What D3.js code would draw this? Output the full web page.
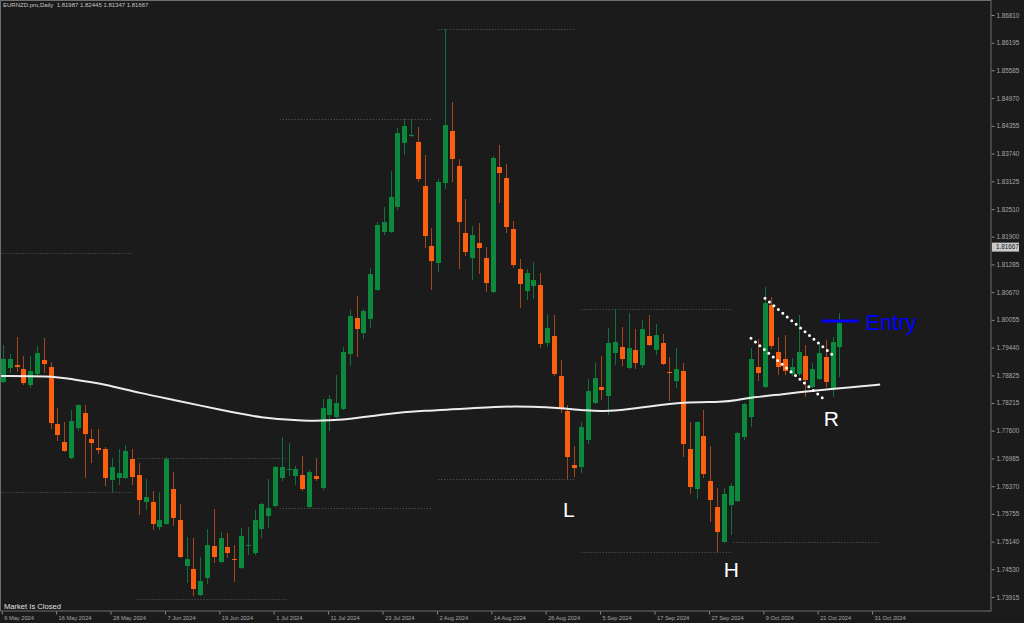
<!DOCTYPE html>
<html><head><meta charset="utf-8">
<script src="https://cdn.jsdelivr.net/npm/d3@7"></script>
<style>body{margin:0;background:#1b1b1b}svg{display:block}</style>
</head><body>
<svg id="c" width="1024" height="623"></svg>
<script>
// ---- data ----
const symbolTitle = "EURNZD.pro,Daily  1.81987 1.82445 1.81347 1.81667";
const lastPrice = 1.81667;
const open = [
1.78678,1.78988,1.79054,1.78966,1.78611,1.78855,1.79165,1.79010,1.77747,1.77349,
1.76994,1.77658,1.77991,1.77415,1.77216,1.77193,1.76507,1.76551,1.76551,1.76972,
1.76617,1.76020,1.76020,1.75465,1.75532,1.76307,1.75620,1.74601,1.74535,1.73959,
1.74336,1.75044,1.74690,1.75022,1.74756,1.74557,1.75044,1.74889,1.75421,1.75709,
1.75931,1.76551,1.76728,1.76595,1.76617,1.75908,1.76595,1.76330,1.77947,1.77902,
1.78080,1.79298,1.80096,1.79764,1.80074,1.80716,1.82002,1.82002,1.82556,1.83974,
1.84129,1.83996,1.83021,1.81691,1.81315,1.83087,1.84240,1.83464,1.81980,1.81426,
1.81758,1.81426,1.80672,1.83442,1.83198,1.82068,1.81182,1.80694,1.80805,1.80827,
1.79542,1.79697,1.78811,1.78035,1.76839,1.76795,1.77393,1.78213,1.78567,1.78368,
1.79321,1.79454,1.78988,1.79387,1.79054,1.79697,1.79387,1.79542,1.78900,1.78700,
1.78922,1.77193,1.76307,1.77482,1.76485,1.75908,1.75133,1.75953,1.76041,1.77459,
1.77902,1.79010,1.78567,1.80384,1.79343,1.79188,1.78855,1.78855,1.79254,1.78567,
1.78744,1.79232,1.78523,1.79454];
const high = [
1.79498,1.79298,1.79675,1.79254,1.79254,1.79476,1.79653,1.79121,1.78102,1.77792,
1.78058,1.78190,1.78168,1.77636,1.77636,1.77238,1.76994,1.77193,1.77282,1.77193,
1.76883,1.76529,1.76263,1.76241,1.77016,1.76684,1.75975,1.75244,1.75222,1.74801,
1.75421,1.75864,1.75355,1.75333,1.75067,1.75443,1.75465,1.75842,1.75997,1.76529,
1.76817,1.77459,1.77326,1.76817,1.77039,1.76728,1.76994,1.78301,1.78390,1.78833,
1.79454,1.80273,1.80584,1.80295,1.81204,1.82223,1.82556,1.83353,1.84306,1.84505,
1.84505,1.84328,1.83708,1.82090,1.83176,1.86499,1.84882,1.83619,1.82733,1.82135,
1.82201,1.81669,1.83686,1.83929,1.83508,1.82245,1.81404,1.81182,1.81337,1.81093,
1.80185,1.80163,1.79165,1.78168,1.77260,1.77792,1.78744,1.79121,1.79254,1.79874,
1.80295,1.79897,1.80207,1.79852,1.80052,1.80163,1.79963,1.79741,1.79232,1.79432,
1.79099,1.77792,1.77814,1.78058,1.77260,1.76330,1.76330,1.76440,1.77570,1.78213,
1.79432,1.79631,1.80783,1.80561,1.79675,1.79719,1.79210,1.80163,1.79498,1.79099,
1.79498,1.79609,1.79675,1.80207];
const low = [
1.78656,1.78878,1.78900,1.78611,1.78545,1.78811,1.78878,1.77636,1.77371,1.77127,
1.76972,1.77592,1.76551,1.76883,1.77083,1.76374,1.76241,1.76396,1.76529,1.76396,
1.75731,1.75842,1.75399,1.75399,1.75510,1.75487,1.74778,1.74225,1.73937,1.73937,
1.74202,1.74668,1.74668,1.74778,1.74247,1.74535,1.74845,1.74845,1.75222,1.75443,
1.75908,1.76485,1.76595,1.76396,1.76263,1.75886,1.76485,1.76285,1.77592,1.77880,
1.78058,1.79032,1.79232,1.79631,1.79874,1.80694,1.81935,1.81980,1.82489,1.83708,
1.84107,1.83109,1.81647,1.80716,1.81115,1.82954,1.83109,1.81182,1.81470,1.80938,
1.81071,1.80672,1.80650,1.82644,1.81980,1.81204,1.80318,1.80495,1.80517,1.79432,
1.79454,1.78811,1.77991,1.76529,1.76573,1.76662,1.77304,1.78190,1.78279,1.77947,
1.79054,1.79032,1.78966,1.78966,1.78988,1.79476,1.79276,1.79054,1.78257,1.78545,
1.77016,1.76197,1.76086,1.76551,1.75576,1.74911,1.75111,1.75288,1.76020,1.77393,
1.77681,1.78700,1.78545,1.79409,1.78833,1.78833,1.78811,1.78811,1.78346,1.78545,
1.78722,1.78567,1.78346,1.78789];
const close = [
1.79188,1.79188,1.79010,1.78656,1.78922,1.79321,1.79077,1.77769,1.77504,1.77149,
1.77814,1.78168,1.77526,1.77326,1.77171,1.76551,1.76795,1.76662,1.77149,1.76573,
1.76064,1.76130,1.75532,1.75620,1.76972,1.75665,1.74801,1.74756,1.74092,1.74269,
1.75067,1.74801,1.75222,1.74889,1.74734,1.75266,1.75067,1.75620,1.75975,1.75886,
1.76795,1.76795,1.76750,1.76750,1.76307,1.76684,1.76529,1.78102,1.78301,1.78213,
1.79343,1.80140,1.79852,1.80251,1.81071,1.82157,1.82223,1.82777,1.84195,1.84350,
1.84151,1.83176,1.81913,1.81359,1.83109,1.84372,1.83619,1.82223,1.81558,1.81935,
1.81647,1.80871,1.83641,1.83309,1.82113,1.81270,1.80849,1.81093,1.80938,1.79520,
1.79874,1.78855,1.78102,1.77016,1.76772,1.77681,1.78478,1.78767,1.78501,1.79542,
1.79564,1.79188,1.79432,1.79099,1.79852,1.79498,1.79719,1.79077,1.78878,1.78966,
1.77304,1.76352,1.77792,1.76640,1.76064,1.75355,1.76197,1.76374,1.77548,1.78190,
1.79188,1.78878,1.80428,1.79476,1.79010,1.78922,1.79010,1.79343,1.78722,1.78966,
1.79321,1.78678,1.79564,1.79985];

// moving average (bar index, value)
const maIdx = [-0.5,7,10,15,20,26,32,38,44,50,56,62,68,72,78,82,86,88,92,95,100,106,108,110,115,118,122,125,129];
const maVal = [1.78811,1.78811,1.78744,1.78634,1.78434,1.78257,1.78058,1.77880,1.77814,1.77825,1.77969,1.78047,1.78080,1.78135,1.78135,1.78102,1.78047,1.78024,1.78069,1.78135,1.78235,1.78235,1.78279,1.78335,1.78412,1.78468,1.78523,1.78567,1.78622];

// period high / low dotted levels
const hlStart = [-0.2, 19.8, 40.7, 64.0, 85.1, 107.4];
const hlEnd   = [19.0, 41.9, 63.2, 84.1, 107.2, 129.0];
const hlHigh  = [1.81536, 1.76994, 1.84505, 1.86499, 1.80295, null];
const hlLow   = [1.76241, 1.73870, 1.75886, 1.76529, 1.74911, 1.75133];

// axis ticks
const yTickValues = [1.86810,1.86195,1.85585,1.84970,1.84355,1.83740,1.83125,1.82510,1.81900,1.81285,1.80670,1.80055,1.79440,1.78825,1.78215,1.77600,1.76985,1.76370,1.75755,1.75140,1.74530,1.73915];
const yTickLabels = yTickValues.map(v => v.toFixed(5));
const xTickIdx = [0,8,16,24,32,40,48,56,64,72,80,88,96,104,112,120,128];
const xTickLabels = ["6 May 2024","16 May 2024","28 May 2024","7 Jun 2024","19 Jun 2024","1 Jul 2024","11 Jul 2024","23 Jul 2024","2 Aug 2024","14 Aug 2024","26 Aug 2024","5 Sep 2024","17 Sep 2024","27 Sep 2024","9 Oct 2024","21 Oct 2024","31 Oct 2024"];

// annotations
const channelLines = [ [[112.06,1.80533],[122.5,1.79217]], [[110.0,1.79647],[120.5,1.78324]] ];
const entryLine = {from:120.4, to:125.8, price:1.80029, label:"Entry"};
const letterLabels = ["L","H","R"];
const letterIdx = [83.2,107.1,121.8];
const letterPrice = [1.75687,1.74358,1.77703];

// ---- drawing ----
const svg = d3.select("#c");
const plotR = 991, plotB = 611;
const x = d3.scaleLinear().domain([0,128]).range([3, 873.4]);
const y = d3.scaleLinear().domain([1.86810,1.73915]).range([15,597]);

svg.append("rect").attr("width",1024).attr("height",623).attr("fill","#1b1b1b");
svg.append("defs").append("clipPath").attr("id","clip")
  .append("rect").attr("x",1).attr("y",1).attr("width",plotR-1).attr("height",plotB-1);
const g = svg.append("g").attr("clip-path","url(#clip)");

// period levels
const hl = [];
hlStart.forEach((s,i)=>{
  if(hlHigh[i]!=null) hl.push({s, e:hlEnd[i], v:hlHigh[i]});
  if(hlLow[i]!=null) hl.push({s, e:hlEnd[i], v:hlLow[i]});
});
g.selectAll("line.hl").data(hl).join("line").attr("class","hl")
  .attr("x1",d=>x(d.s)).attr("x2",d=>x(d.e))
  .attr("y1",d=>Math.round(y(d.v))+0.5).attr("y2",d=>Math.round(y(d.v))+0.5)
  .attr("stroke","#5c5c5c").attr("stroke-width",1).attr("stroke-dasharray","1,2");

// candles
const bars = open.map((o,i)=>({i,o,h:high[i],l:low[i],c:close[i]}));
const cg = g.append("g");
cg.selectAll("line.wick").data(bars).join("line").attr("class","wick")
  .attr("x1",d=>Math.round(x(d.i))+0.5).attr("x2",d=>Math.round(x(d.i))+0.5)
  .attr("y1",d=>y(d.h)).attr("y2",d=>y(d.l))
  .attr("stroke",d=>d.c>=d.o?"#137038":"#a5461b").attr("stroke-width",1);
cg.selectAll("rect.body").data(bars).join("rect").attr("class","body")
  .attr("x",d=>Math.round(x(d.i))-2).attr("width",5)
  .attr("y",d=>y(Math.max(d.o,d.c)))
  .attr("height",d=>Math.max(1,Math.abs(y(d.o)-y(d.c))))
  .attr("fill",d=>d.c>=d.o?"#0b8a3d":"#fb6010");

// moving average
const maPts = maIdx.map((m,i)=>[m,maVal[i]]);
g.append("path").datum(maPts)
  .attr("d", d3.line().x(d=>x(d[0])).y(d=>y(d[1])).curve(d3.curveBasis))
  .attr("fill","none").attr("stroke","#ececec").attr("stroke-width",2);

// channel dotted lines
g.selectAll("line.ch").data(channelLines).join("line").attr("class","ch")
  .attr("x1",d=>x(d[0][0])).attr("y1",d=>y(d[0][1]))
  .attr("x2",d=>x(d[1][0])).attr("y2",d=>y(d[1][1]))
  .attr("stroke","#ffffff").attr("stroke-width",3)
  .attr("stroke-linecap","round").attr("stroke-dasharray","0,5.8");

// entry
g.append("line").attr("x1",x(entryLine.from)).attr("x2",x(entryLine.to))
  .attr("y1",y(entryLine.price)).attr("y2",y(entryLine.price))
  .attr("stroke","#0000ff").attr("stroke-width",3);
g.append("text").attr("x",x(entryLine.to)+7).attr("y",y(entryLine.price)+9)
  .attr("font-family","Liberation Sans, Arial, sans-serif").attr("font-size",22)
  .attr("fill","#0000ff").text(entryLine.label);

// letters
g.selectAll("text.lt").data(letterLabels).join("text").attr("class","lt")
  .attr("x",(d,i)=>x(letterIdx[i])).attr("y",(d,i)=>y(letterPrice[i]))
  .attr("text-anchor","middle").attr("font-family","Liberation Sans, Arial, sans-serif")
  .attr("font-size",21).attr("fill","#ffffff").text(d=>d);

// frame
svg.append("rect").attr("x",0.5).attr("y",0.5).attr("width",plotR-0.5).attr("height",plotB-0.5)
  .attr("fill","none").attr("stroke","#6e6e6e").attr("stroke-width",1);

// y axis
const ya = svg.append("g").attr("transform",`translate(${plotR+0.5},0)`)
  .call(d3.axisRight(y).tickValues(yTickValues).tickFormat((d,i)=>yTickLabels[i]).tickSize(3).tickPadding(2));
ya.select(".domain").remove();
ya.selectAll("line").attr("stroke","#8a8a8a");
ya.selectAll("text").attr("fill","#a6a6a6").attr("font-size",6.3)
  .attr("font-family","Liberation Sans, Arial, sans-serif");

// last price box
const lp = y(lastPrice);
svg.append("rect").attr("x",plotR+1).attr("y",lp-4.5).attr("width",27).attr("height",9).attr("fill","#c9c9c9");
svg.append("text").attr("x",plotR+5).attr("y",lp+2.2).attr("font-size",6.3)
  .attr("font-family","Liberation Sans, Arial, sans-serif").attr("fill","#1b1b1b")
  .text(lastPrice.toFixed(5));

// x axis
const xa = svg.append("g").attr("transform",`translate(-1.3,${plotB+0.5})`)
  .call(d3.axisBottom(x).tickValues(xTickIdx).tickFormat((d,i)=>xTickLabels[i]).tickSize(3));
xa.select(".domain").remove();
xa.selectAll("line").attr("stroke","#8a8a8a");
xa.selectAll("text").attr("fill","#a6a6a6").attr("font-size",5.7)
  .attr("font-family","Liberation Sans, Arial, sans-serif")
  .attr("text-anchor","start").attr("x",2).attr("y",8.5).attr("dy",0);

// title & status
svg.append("text").attr("x",3).attr("y",7).attr("font-size",6)
  .attr("font-family","Liberation Sans, Arial, sans-serif").attr("fill","#c4c4c4")
  .attr("xml:space","preserve").style("white-space","pre").text(symbolTitle);
svg.append("text").attr("x",4).attr("y",609).attr("font-size",7.6)
  .attr("font-family","Liberation Sans, Arial, sans-serif").attr("fill","#e2e2e2")
  .text("Market Is Closed");
</script>
</body></html>
